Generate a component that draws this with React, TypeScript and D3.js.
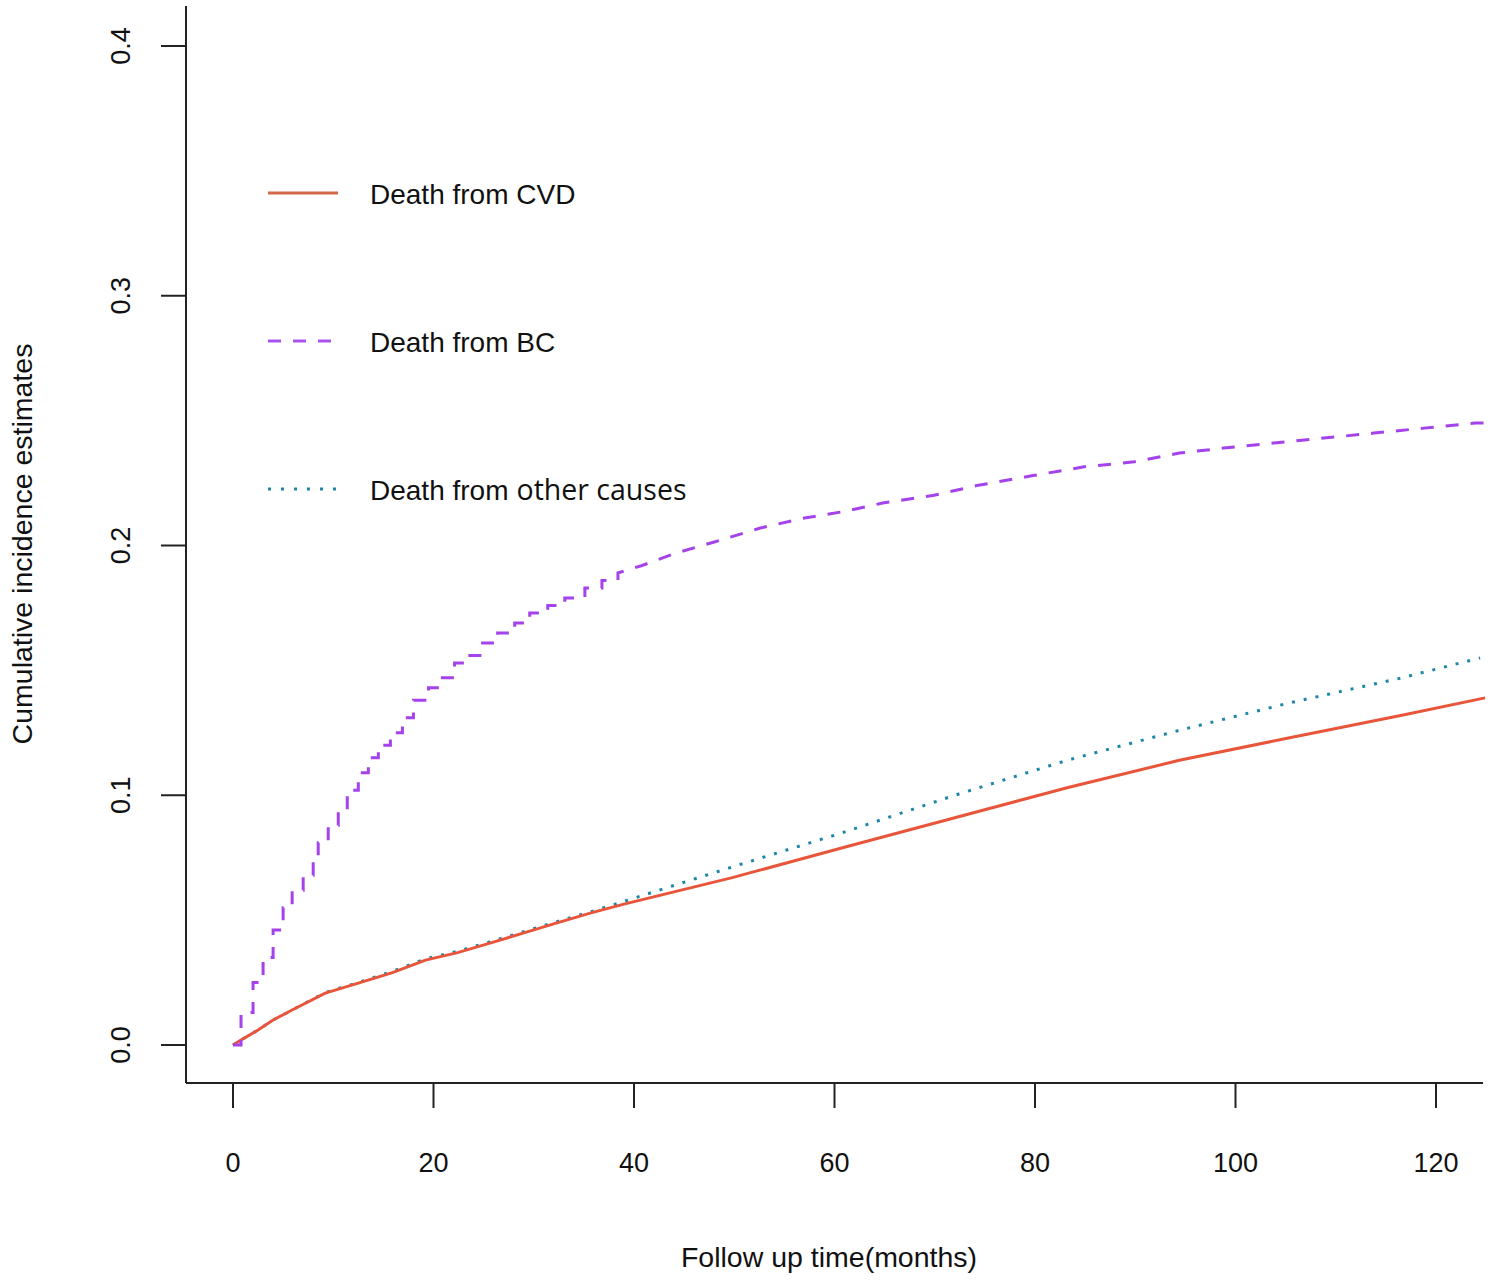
import React from "react";
import * as d3 from "d3";

// ---- data ----
const bcTime = [0, 0.8, 2.0, 3.0, 4.0, 5.0, 5.9, 7.0, 8.0, 8.5, 9.5, 10.5, 11.4, 12.5, 13.5, 14.5, 15.7, 16.9, 18.0, 19.5, 20.6, 22.1, 23.4, 24.9, 26.4, 28.1, 29.6, 31.4, 33.1, 35.1, 36.8, 38.4, 40.8, 44.2, 48.1, 52.6, 57.0, 60.8, 64.8, 69.8, 74.2, 79.8, 84.9, 89.9, 94.4, 98.8, 103.8, 108.8, 113.8, 118.8, 123.9, 124.9];
const bcValue = [0, 0.013, 0.025, 0.035, 0.046, 0.055, 0.062, 0.068, 0.075, 0.081, 0.088, 0.095, 0.102, 0.109, 0.115, 0.12, 0.125, 0.131, 0.138, 0.143, 0.147, 0.153, 0.156, 0.161, 0.165, 0.169, 0.173, 0.176, 0.179, 0.183, 0.186, 0.189, 0.192, 0.197, 0.2015, 0.207, 0.211, 0.2135, 0.217, 0.22, 0.224, 0.228, 0.2315, 0.2335, 0.237, 0.239, 0.241, 0.243, 0.245, 0.247, 0.249, 0.249];
const bcStepUntil = 40; // visible stair-steps up to this month

const cvdTime = [0, 0.8, 2.5, 4.0, 5.9, 9.2, 12.5, 15.9, 19.2, 22.4, 25.8, 29.1, 32.4, 35.8, 39.1, 49.8, 60.8, 72.0, 83.2, 94.4, 105.4, 116.6, 124.9];
const cvdValue = [0, 0.002, 0.006, 0.01, 0.014, 0.0208, 0.0248, 0.029, 0.034, 0.037, 0.041, 0.045, 0.049, 0.053, 0.0565, 0.067, 0.079, 0.091, 0.103, 0.114, 0.123, 0.132, 0.139];

const otherTime = [0, 0.8, 2.5, 4.0, 5.9, 9.2, 12.5, 15.9, 19.2, 22.4, 25.8, 29.1, 32.4, 35.8, 38.6, 49.8, 60.8, 72.0, 83.2, 94.4, 105.4, 116.6, 124.4];
const otherValue = [0, 0.002, 0.006, 0.01, 0.014, 0.021, 0.025, 0.0295, 0.0345, 0.0375, 0.0415, 0.0455, 0.0495, 0.0535, 0.057, 0.0713, 0.085, 0.1, 0.114, 0.126, 0.137, 0.147, 0.155];

const xTicks = [0, 20, 40, 60, 80, 100, 120];
const yTicks = [0, 0.1, 0.2, 0.3, 0.4];
const legendLabels = ["Death from CVD", "Death from BC", "Death from"];
const legendExtra = ["", "", "other causes"];

export default function App() {
  const W = 1500, H = 1282;
  const left = 186, right = 1483, top = 6, bottom = 1083;
  const x = d3.scaleLinear().domain([0, 120]).range([233, 1436]);
  const y = d3.scaleLinear().domain([0, 0.4]).range([1045, 46]);

  const mk = (t: number[], v: number[]) => t.map((tt, i) => [tt, v[i]] as [number, number]);
  const linLine = d3.line<[number, number]>().x(d => x(d[0])).y(d => y(d[1]));

  // BC: step corners for the early part, then straight through the readings
  const bcPts: [number, number][] = [];
  bcTime.forEach((t, i) => {
    if (i > 0 && t <= bcStepUntil) bcPts.push([t, bcValue[i - 1]]);
    bcPts.push([t, bcValue[i]]);
  });

  const cvdColor = "#E8553A";
  const bcColor = "#A443EC";
  const otherColor = "#1E86A8";
  const sans = "'Liberation Sans', Arial, sans-serif";

  const legendY = [193, 341, 489];
  const legendColors = ["#D2674C", "#A855F0", "#2185A6"];
  const legendDash = [undefined, "13,12", "3,10"];

  return (
    <svg width={W} height={H} style={{ position: "absolute", left: 0, top: 0, background: "#fff" }}>
      <rect x={0} y={0} width={W} height={H} fill="#fff" />
      {/* axes */}
      <line x1={left} y1={top} x2={left} y2={bottom} stroke="#222" strokeWidth={2} />
      <line x1={left} y1={bottom} x2={right} y2={bottom} stroke="#222" strokeWidth={2} />
      {xTicks.map(t => (
        <g key={"x" + t}>
          <line x1={x(t)} y1={bottom} x2={x(t)} y2={bottom + 25} stroke="#222" strokeWidth={2} />
          <text x={x(t)} y={1172} fontFamily={sans} fontSize={27} textAnchor="middle" fill="#111">{t}</text>
        </g>
      ))}
      {yTicks.map(t => (
        <g key={"y" + t}>
          <line x1={left - 25} y1={y(t)} x2={left} y2={y(t)} stroke="#222" strokeWidth={2} />
          <text transform={`translate(130,${y(t)}) rotate(-90)`} fontFamily={sans} fontSize={27} textAnchor="middle" fill="#111">{t.toFixed(1)}</text>
        </g>
      ))}
      <text x={829} y={1267} fontFamily={sans} fontSize={28.5} textAnchor="middle" fill="#111">Follow up time(months)</text>
      <text transform={`translate(32,544) rotate(-90)`} fontFamily={sans} fontSize={28.5} textAnchor="middle" fill="#111">Cumulative incidence estimates</text>

      {/* curves */}
      <path d={linLine(mk(otherTime, otherValue)) || ""} fill="none" stroke={otherColor} strokeWidth={3} strokeDasharray="3,9" />
      <path d={linLine(mk(cvdTime, cvdValue)) || ""} fill="none" stroke={cvdColor} strokeWidth={3} />
      <path d={linLine(bcPts) || ""} fill="none" stroke={bcColor} strokeWidth={3} strokeDasharray="13,12" />

      {/* legend */}
      {legendLabels.map((lab, i) => (
        <g key={"l" + i}>
          <line x1={268} y1={legendY[i]} x2={338} y2={legendY[i]} stroke={legendColors[i]} strokeWidth={3} strokeDasharray={legendDash[i]} />
          <text x={370} y={legendY[i] + 11} fontFamily={sans} fontSize={28} fill="#111">
            {lab}
            {legendExtra[i] ? <tspan fontFamily="'Open Sans', sans-serif" fontSize={28.5} dx={8}>{legendExtra[i]}</tspan> : null}
          </text>
        </g>
      ))}
    </svg>
  );
}
